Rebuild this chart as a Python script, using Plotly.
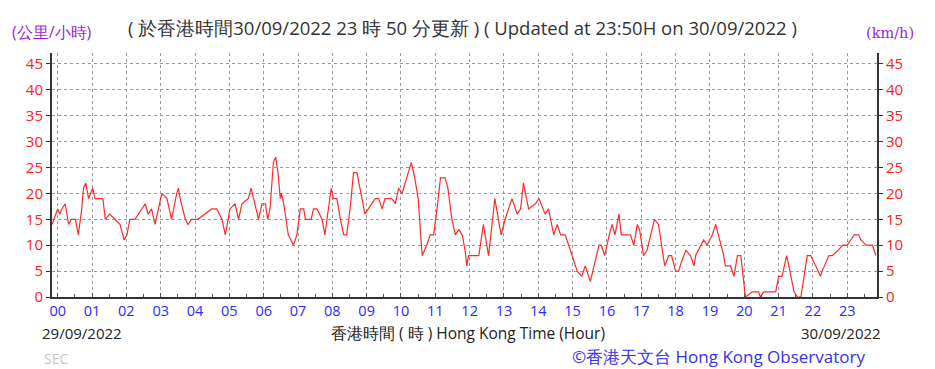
import plotly.graph_objects as go

# time in minutes from 00:00 on 30/09/2022 (negative = 29/09/2022)
minutes = [-10, 0, 4, 7, 13, 19, 24, 31, 36, 42, 45, 49, 54, 61, 65, 79, 83, 91, 100, 109,
           116, 121, 126, 135, 141, 147, 153, 158, 164, 170, 176, 182, 191, 199, 208, 211, 214,
           223, 228, 234, 245, 269, 278, 287, 293, 301, 310, 316, 322, 333, 338, 342, 346, 351,
           357, 363, 367, 371, 377, 381, 385, 389, 391, 395, 403, 412, 418, 424, 430, 433, 443,
           447, 453, 462, 467, 473, 478, 482, 488, 494, 500, 505, 511, 517, 523, 530, 537, 543,
           549, 555, 561, 567, 572, 584, 590, 596, 602, 607, 618, 624, 630, 637, 645, 651, 657,
           663, 669, 677, 682, 689, 695, 701, 707, 712, 715, 718, 721, 730, 736, 744, 753, 764,
           775, 782, 794, 803, 809, 814, 823, 835, 841, 852, 858, 867, 873, 879, 887, 899, 908,
           916, 922, 931, 937, 946, 950, 956, 964, 969, 974, 981, 985, 1001, 1007, 1013, 1017,
           1024, 1030, 1036, 1043, 1050, 1056, 1061, 1068, 1073, 1080, 1085, 1091, 1098, 1106,
           1112, 1115, 1120, 1129, 1135, 1144, 1150, 1155, 1164, 1167, 1176, 1182, 1188, 1194,
           1202, 1214, 1225, 1228, 1234, 1255, 1260, 1266, 1274, 1278, 1287, 1293, 1299, 1310,
           1316, 1325, 1333, 1336, 1348, 1354, 1364, 1372, 1380, 1386, 1392, 1400, 1404, 1413,
           1419, 1424, 1430]
speed_kmh = [14, 17, 16, 17, 18, 14, 15, 15, 12, 17, 21, 22, 19, 21, 19, 19, 15, 16, 15, 14,
             11, 12, 15, 15, 16, 17, 18, 16, 17, 14, 17, 20, 19, 15, 20, 21, 19, 15, 14, 15,
             15, 17, 17, 15, 12, 17, 18, 15, 18, 19, 21, 19, 17, 15, 18, 18, 15, 17, 26, 27,
             24, 19, 20, 18, 12, 10, 12, 17, 17, 15, 15, 17, 17, 15, 12, 17, 21, 19, 19, 15,
             12, 12, 17, 24, 24, 20, 16, 17, 18, 19, 19, 17, 19, 19, 18, 21, 20, 22, 26, 23,
             19, 8, 10, 12, 12, 17, 23, 23, 21, 15, 12, 13, 12, 9, 6, 8, 8, 8, 8, 14, 8, 19,
             12, 15, 19, 16, 17, 22, 17, 18, 19, 16, 17, 12, 14, 12, 12, 8, 5, 4, 6, 3, 6,
             10, 10, 8, 12, 14, 12, 16, 12, 12, 10, 14, 13, 8, 9, 12, 15, 14, 10, 6, 8, 8, 5,
             5, 7, 9, 8, 6, 8, 9, 11, 10, 12, 14, 12, 8, 6, 6, 4, 8, 8,
             0, 1, 1, 0, 1, 1, 4, 4, 8, 6, 1, 0, 0, 8,
             8, 6, 4, 5, 8, 8, 9, 10, 10, 11, 12, 12, 11, 10,
             10, 10, 8]

hour_ticks = [h * 60 for h in range(24)]
hour_labels = [f"{h:02d}" for h in range(24)]
y_ticks = list(range(0, 50, 5))

FONT = "Open Sans"
W, H = 935, 369
ML, MR, MT, MB = 52, 58, 53, 72
PW, PH = W - ML - MR, H - MT - MB

fig = go.Figure()
fig.add_trace(go.Scatter(x=minutes, y=speed_kmh, mode="lines",
                         line=dict(color="#ff2b2b", width=1.2), hoverinfo="skip",
                         showlegend=False))
# invisible trace for right axis
fig.add_trace(go.Scatter(x=[minutes[0]], y=[speed_kmh[0]], yaxis="y2", mode="lines",
                         line=dict(width=0), showlegend=False, hoverinfo="skip"))

fig.update_layout(
    width=W, height=H,
    margin=dict(l=ML, r=MR, t=MT, b=MB),
    paper_bgcolor="white", plot_bgcolor="white",
    font=dict(family=FONT),
    xaxis=dict(range=[-10, 1432], tickmode="array", tickvals=hour_ticks, ticktext=hour_labels,
               tickfont=dict(color="#2b2bff", size=14.5, family=FONT), ticklabelstandoff=0,
               showgrid=True, gridcolor="#9a9a9a", griddash="dot", gridwidth=1,
               showline=True, linecolor="#333", linewidth=2, ticks="inside", ticklen=4,
               tickcolor="#555", zeroline=False,
               minor=dict(tickvals=[h * 60 + 30 for h in range(24)], ticks="inside",
                          ticklen=3, tickcolor="#555", showgrid=False)),
    yaxis=dict(range=[0, 47.1], tickmode="array", tickvals=y_ticks,
               tickfont=dict(color="#ff2020", size=15, family=FONT),
               showgrid=True, gridcolor="#9a9a9a", griddash="dot", gridwidth=1,
               showline=True, linecolor="#333", linewidth=2, ticks="outside", ticklen=4,
               tickcolor="#333", zeroline=False),
    yaxis2=dict(range=[0, 47.1], tickmode="array", tickvals=y_ticks, overlaying="y",
                side="right", tickfont=dict(color="#ff2020", size=15, family=FONT),
                showgrid=False, showline=True, linecolor="#333", linewidth=2,
                ticks="outside", ticklen=4, tickcolor="#333", zeroline=False),
)

ann = [
    dict(x=10, y=32, text="(公里/小時)", font=dict(color="#9a1fd6", size=16, family=FONT),
         xanchor="left"),
    dict(x=126, y=27, text="( 於香港時間30/09/2022 23 時 50 分更新 ) ( Updated at 23:50H on 30/09/2022 )",
         font=dict(color="#333333", size=18.5, family=FONT), xanchor="left"),
    dict(x=916, y=33, text="(km/h)", font=dict(color="#9a1fd6", size=14.5, family="DejaVu Serif"),
         xanchor="right"),
    dict(x=40, y=333, text="29/09/2022", font=dict(color="#222", size=15, family=FONT),
         xanchor="left"),
    dict(x=468, y=333, text="香港時間 ( 時 ) Hong Kong Time (Hour)",
         font=dict(color="#222", size=15.5, family=FONT), xanchor="center"),
    dict(x=883, y=333, text="30/09/2022", font=dict(color="#222", size=15, family=FONT),
         xanchor="right"),
    dict(x=42, y=358, text="SEC", font=dict(color="#c8c8c8", size=14, family=FONT),
         xanchor="left"),
    dict(x=867, y=356, text="©香港天文台 Hong Kong Observatory",
         font=dict(color="#3333ee", size=17, family=FONT), xanchor="right"),
]
for a in ann:
    fig.add_annotation(xref="paper", yref="paper",
                       x=(a["x"] - ML) / PW, y=(H - MB - a["y"]) / PH, text=a["text"],
                       font=a["font"], xanchor=a["xanchor"], yanchor="middle",
                       showarrow=False)

fig.write_html("out.html")
